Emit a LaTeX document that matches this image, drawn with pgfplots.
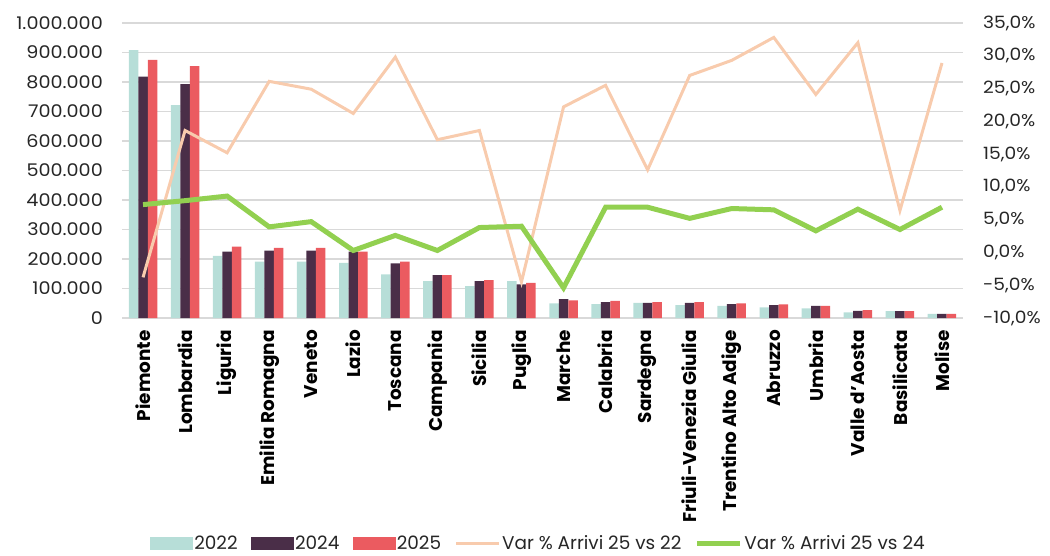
\documentclass[border=0pt]{standalone}
\usepackage{fontspec}
\setmainfont{Poppins}
\newfontfamily\tickfont{Poppins}[FakeStretch=1.1]
\usepackage{pgfplots}
\usepackage{pgfplotstable}
\pgfplotsset{compat=1.18}
\definecolor{c22}{RGB}{183,222,216}
\definecolor{c24}{RGB}{74,46,72}
\definecolor{c25}{RGB}{235,91,96}
\definecolor{cor}{RGB}{248,203,173}
\definecolor{cgr}{RGB}{146,208,80}
\definecolor{cgrid}{RGB}{217,217,217}
\pgfplotstableread{
idx v22 v24 v25 p22 p24
0 908000 818000 875000 -3.8 7.3
1 722000 793000 854000 18.6 7.9
2 211000 225000 242000 15.2 8.6
3 191000 228000 238000 26.1 3.9
4 191000 228000 238000 24.9 4.7
5 187000 225000 225000 21.2 0.3
6 148000 185000 191000 29.8 2.6
7 125000 145000 145000 17.2 0.3
8 108000 125000 128000 18.6 3.8
9 125000 114000 119000 -4.5 4.0
10 50000 64000 60000 22.2 -5.4
11 47000 54000 58000 25.5 6.9
12 51000 51000 54000 12.6 6.9
13 44000 51000 54000 27.0 5.2
14 41000 47000 50000 29.3 6.7
15 36000 44000 46000 32.8 6.5
16 33000 41000 41000 24.1 3.3
17 19000 24000 27000 32.0 6.6
18 23000 23000 23000 6.4 3.5
19 14000 14000 14000 28.9 6.9
}\data
\begin{document}
\begin{tikzpicture}[x=1bp,y=1bp]
\path[use as bounding box] (0,0) rectangle (1050,-556);
\begin{axis}[
  at={(122bp,-318bp)}, anchor=south west,
  width=841bp, height=295bp, scale only axis,
  xmin=-0.5, xmax=19.5, ymin=0, ymax=1000000,
  ybar=0pt, bar width=9.5bp,
  axis line style={draw=none},
  major tick length=0pt,
  ymajorgrids, grid style={cgrid, line width=1.3bp},
  ytick={0,100000,...,1000000},
  scaled y ticks=false,
  /pgf/number format/assume math mode=true,
  yticklabel={\pgfmathprintnumber[fixed,precision=0,1000 sep={.}]{\tick}},
  yticklabel style={anchor=east, inner sep=0pt, xshift=-19bp, font=\tickfont\fontsize{17.5}{20}\selectfont, text=black!85},
  xtick={0,...,19},
  xticklabels={Piemonte,Lombardia,Liguria,Emilia Romagna,Veneto,Lazio,Toscana,Campania,Sicilia,Puglia,Marche,Calabria,Sardegna,Friuli-Venezia Giulia,Trentino Alto Adige,Abruzzo,Umbria,Valle d'Aosta,Basilicata,Molise},
  xticklabel style={rotate=90, anchor=east, inner sep=0pt, xshift=-12bp, font=\bfseries\fontsize{18.5}{20}\selectfont},
]
\addplot[fill=c22, draw=none] table[x=idx,y=v22]{\data};
\addplot[fill=c24, draw=none] table[x=idx,y=v24]{\data};
\addplot[fill=c25, draw=none] table[x=idx,y=v25]{\data};
\end{axis}
\begin{axis}[
  at={(122bp,-318bp)}, anchor=south west,
  width=841bp, height=295bp, scale only axis,
  xmin=-0.5, xmax=19.5, ymin=-10, ymax=35,
  axis line style={draw=none},
  major tick length=0pt,
  axis y line*=right, axis x line=none,
  ytick={-10,-5,...,35},
  /pgf/number format/assume math mode=true,
  yticklabel={\pgfmathprintnumber[fixed,fixed zerofill,precision=1,use comma]{\tick}\%},
  yticklabel style={anchor=west, inner sep=0pt, xshift=20bp, font=\tickfont\fontsize{17}{20}\selectfont, text=black!85},
  legend style={at={(0.495,-0.7627)}, anchor=center, draw=none, fill=none,
    font=\fontsize{18.5}{20}\selectfont, text=black!85,
    column sep=0pt, nodes={inner sep=1.5bp},
    /tikz/every even column/.append style={column sep=12bp}},
  legend columns=5,
]
\addlegendimage{legend image code/.code={\fill[c22] (0bp,-6bp) rectangle (42bp,6bp);}}
\addlegendentry{2022}
\addlegendimage{legend image code/.code={\fill[c24] (0bp,-6bp) rectangle (42bp,6bp);}}
\addlegendentry{2024}
\addlegendimage{legend image code/.code={\fill[c25] (0bp,-6bp) rectangle (42bp,6bp);}}
\addlegendentry{2025}
\addplot[cor, line width=3bp, mark=none, legend image code/.code={\draw[cor, line width=3bp] (0bp,0bp) -- (43bp,0bp);}] table[x=idx,y=p22]{\data};
\addlegendentry{Var \% Arrivi 25 vs 22}
\addplot[cgr, line width=5bp, mark=none, legend image code/.code={\draw[cgr, line width=5bp] (0bp,0bp) -- (43bp,0bp);}] table[x=idx,y=p24]{\data};
\addlegendentry{Var \% Arrivi 25 vs 24}
\end{axis}
\end{tikzpicture}
\end{document}
